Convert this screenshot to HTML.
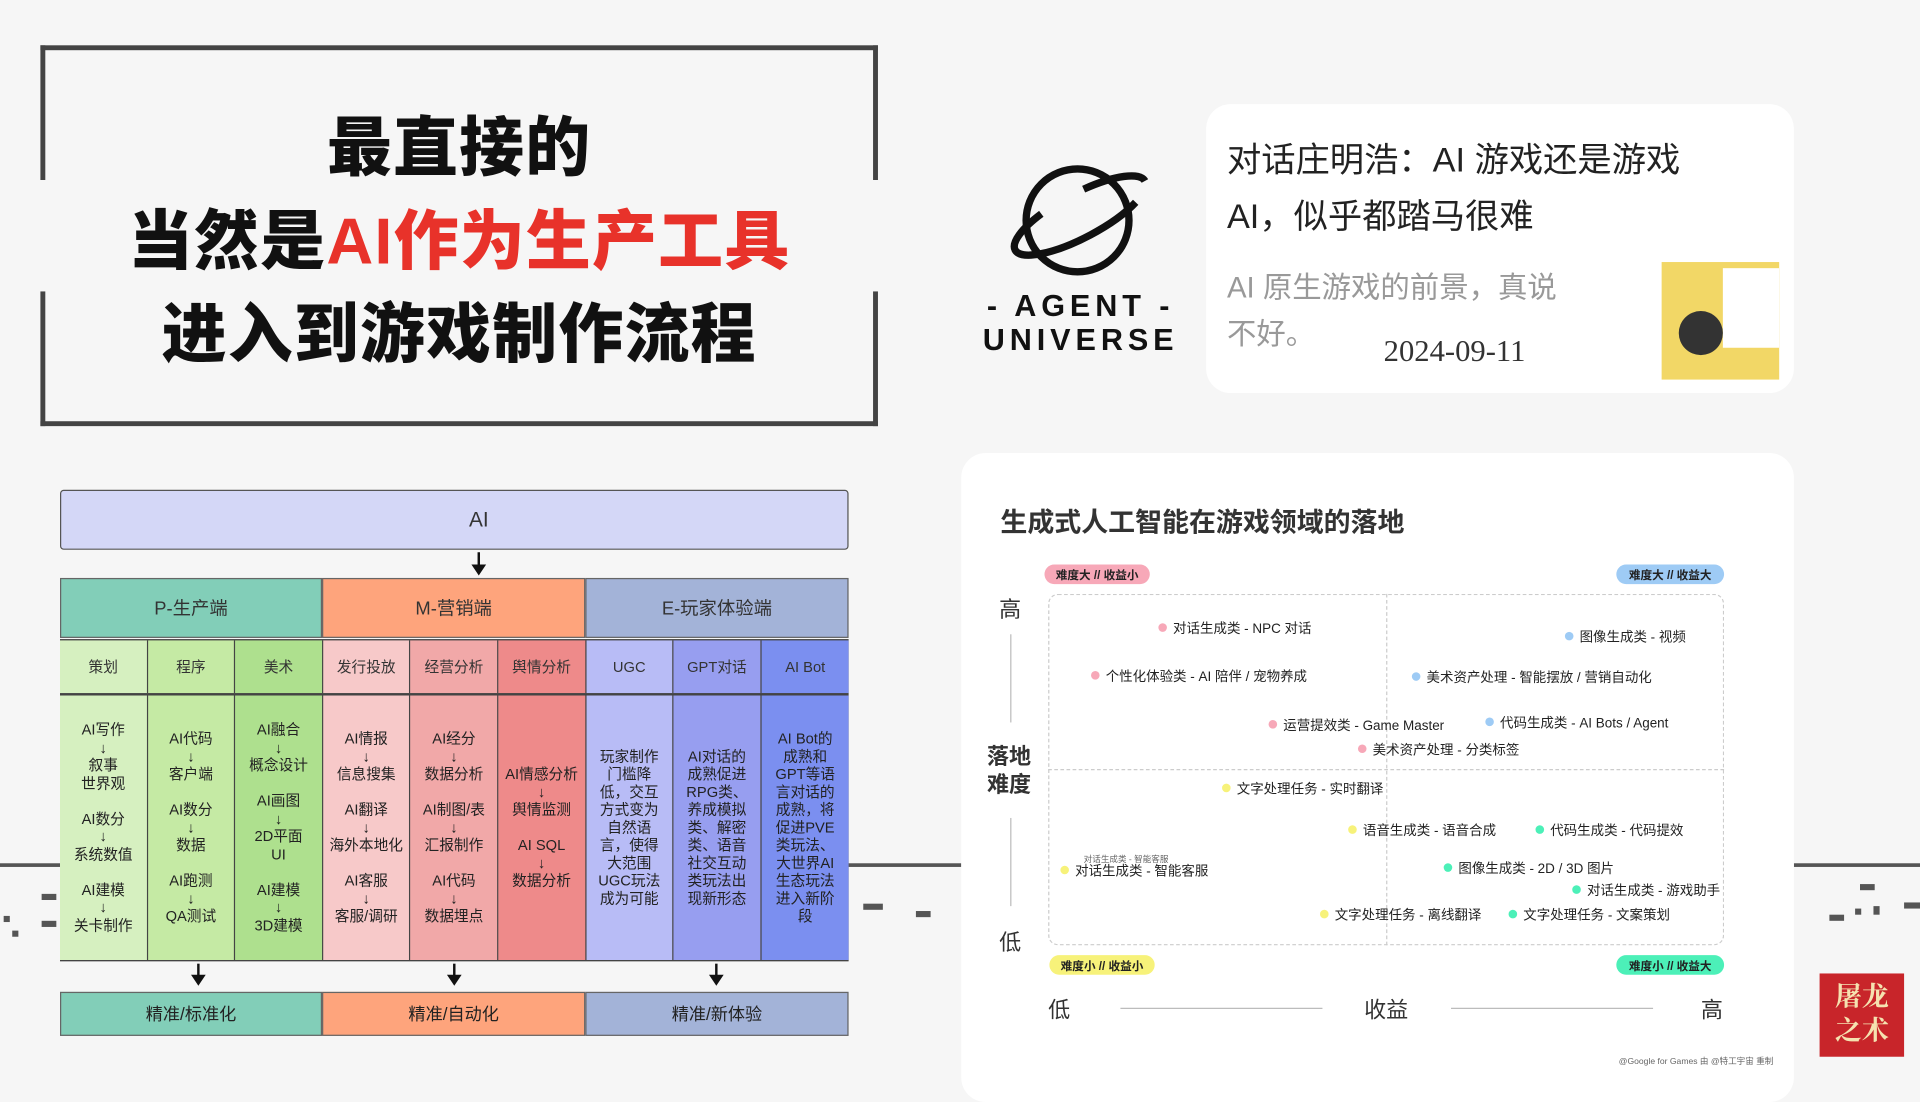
<!DOCTYPE html>
<html><head><meta charset="utf-8"><style>
*{margin:0;padding:0;box-sizing:border-box}
body{width:1920px;height:1080px;overflow:hidden;background:#f6f6f6;font-family:"Liberation Sans","Noto Sans CJK SC",sans-serif}
#w{position:absolute;left:0;top:0;width:1568px;height:882px;transform:scale(1.22449);transform-origin:0 0}
.a{position:absolute}
.c{position:absolute;display:flex;align-items:center;justify-content:center;text-align:center;color:#333}
.ln{position:absolute;background:#444}
.col{position:absolute;top:568px;height:216px;width:71.6px;display:flex;align-items:center;justify-content:center;text-align:center;font-size:12px;line-height:14.5px;color:#222;border-right:1px solid #444}
.sub{position:absolute;top:523px;height:43px;width:71.6px;display:flex;align-items:center;justify-content:center;font-size:12px;color:#333;border-right:1px solid #444}
.pt{position:absolute;font-size:11px;color:#222;white-space:nowrap;line-height:14px}
.pt i{display:inline-block;width:7px;height:7px;border-radius:50%;margin-right:5px;vertical-align:1px}
.tag{position:absolute;height:16px;border-radius:8px;font-size:9.5px;font-weight:bold;color:#222;display:flex;align-items:center;justify-content:center}
.arr{position:absolute;width:2px;background:#111}
.arr:after{content:"";position:absolute;left:-5px;bottom:-2px;border-left:6px solid transparent;border-right:6px solid transparent;border-top:9px solid #111}
.w{padding:0 9px}
</style></head><body><div id="w">
<div class="ln" style="left:33px;top:37px;width:684px;height:4px"></div>
<div class="ln" style="left:33px;top:344px;width:684px;height:4px"></div>
<div class="ln" style="left:33px;top:37px;width:4px;height:110px"></div>
<div class="ln" style="left:33px;top:238px;width:4px;height:110px"></div>
<div class="ln" style="left:713px;top:37px;width:4px;height:110px"></div>
<div class="ln" style="left:713px;top:238px;width:4px;height:110px"></div>
<div class="a" style="left:60px;top:84px;width:630px;text-align:center;font-size:53px;font-weight:900;line-height:76px;color:#111;letter-spacing:1px">最直接的<br>当然是<span style="color:#e8322a">AI作为生产工具</span><br>进入到游戏制作流程</div>
<svg class="a" style="left:820px;top:128px" width="125" height="100" viewBox="0 0 125 100">
<circle cx="60" cy="52" r="42" fill="none" stroke="#111" stroke-width="6"/>
<ellipse cx="62" cy="48" rx="60" ry="18" transform="rotate(-28 62 48)" fill="none" stroke="#111" stroke-width="6" stroke-dasharray="150 40" stroke-dashoffset="-20"/>
</svg>
<div class="a" style="left:795px;top:236px;width:175px;text-align:center;font-size:25px;font-weight:bold;letter-spacing:4px;line-height:28px;color:#111">- AGENT -<br>UNIVERSE</div>
<div class="a" style="left:985px;top:85px;width:480px;height:236px;background:#fff;border-radius:20px"></div>
<div class="a" style="left:1002px;top:108px;font-size:28px;line-height:46px;color:#222">对话庄明浩：AI 游戏还是游戏<br>AI，似乎都踏马很难</div>
<div class="a" style="left:1002px;top:217px;font-size:24px;line-height:38px;color:#999">AI 原生游戏的前景，真说<br>不好。</div>
<div class="a" style="left:1130px;top:274px;font-size:25px;color:#333;font-family:'Liberation Serif',serif">2024-09-11</div>
<div class="a" style="left:1357px;top:214px;width:96px;height:96px;background:#f2d766;overflow:hidden">
<div class="a" style="left:50px;top:5px;width:46px;height:65px;background:#fff"></div>
<div class="a" style="left:14px;top:40px;width:36px;height:36px;border-radius:50%;background:#333"></div></div>
<div class="ln" style="left:0;top:705px;width:50px;height:3px;background:#555"></div>
<div class="ln" style="left:693px;top:705px;width:92px;height:3px;background:#555"></div>
<div class="ln" style="left:1465px;top:705px;width:103px;height:3px;background:#555"></div>
<div class="ln" style="left:34px;top:730px;width:12px;height:5px;background:#555"></div>
<div class="ln" style="left:34px;top:752px;width:12px;height:5px;background:#555"></div>
<div class="ln" style="left:3px;top:748px;width:5px;height:5px;background:#555"></div>
<div class="ln" style="left:10px;top:760px;width:5px;height:5px;background:#555"></div>
<div class="ln" style="left:705px;top:738px;width:16px;height:5px;background:#555"></div>
<div class="ln" style="left:748px;top:744px;width:12px;height:5px;background:#555"></div>
<div class="ln" style="left:1519px;top:722px;width:12px;height:5px;background:#555"></div>
<div class="ln" style="left:1494px;top:747px;width:12px;height:5px;background:#555"></div>
<div class="ln" style="left:1515px;top:742px;width:5px;height:5px;background:#555"></div>
<div class="ln" style="left:1530px;top:740px;width:5px;height:7px;background:#555"></div>
<div class="ln" style="left:1555px;top:737px;width:13px;height:5px;background:#555"></div>
<div class="c" style="left:49px;top:400px;width:644px;height:49px;background:#d4d7f7;border:1px solid #555;border-radius:3px;font-size:17px;padding-left:40px">AI</div>
<div class="arr" style="left:390px;top:451px;height:17px"></div>
<div class="c" style="left:49px;top:472px;width:214px;height:49px;background:#82ceb8;border:1px solid #666;font-size:15px">P-生产端</div>
<div class="c" style="left:263px;top:472px;width:215px;height:49px;background:#fea47c;border:1px solid #666;font-size:15px">M-营销端</div>
<div class="c" style="left:478px;top:472px;width:215px;height:49px;background:#a3b3d8;border:1px solid #666;font-size:15px">E-玩家体验端</div>
<div class="a" style="left:49px;top:522px;width:644px;height:263px;border:1px solid #444;background:#444"></div>
<div class="sub" style="left:49px;background:#d6f0c0">策划</div>
<div class="sub" style="left:120.6px;background:#c5eaa4">程序</div>
<div class="sub" style="left:192.2px;background:#aee08e">美术</div>
<div class="sub" style="left:263.8px;background:#f7c9c9">发行投放</div>
<div class="sub" style="left:335.4px;background:#f1a8a8">经营分析</div>
<div class="sub" style="left:407px;background:#ee8a8a">舆情分析</div>
<div class="sub" style="left:478.6px;background:#b8bcf6">UGC</div>
<div class="sub" style="left:550.2px;background:#979ef0">GPT对话</div>
<div class="sub" style="left:621.8px;background:#7b8ff0;border-right:none">AI Bot</div>
<div class="col" style="left:49px;background:#d6f0c0">AI写作<br>↓<br>叙事<br>世界观<br><br>AI数分<br>↓<br>系统数值<br><br>AI建模<br>↓<br>关卡制作</div>
<div class="col" style="left:120.6px;background:#c5eaa4">AI代码<br>↓<br>客户端<br><br>AI数分<br>↓<br>数据<br><br>AI跑测<br>↓<br>QA测试</div>
<div class="col" style="left:192.2px;background:#aee08e">AI融合<br>↓<br>概念设计<br><br>AI画图<br>↓<br>2D平面<br>UI<br><br>AI建模<br>↓<br>3D建模</div>
<div class="col" style="left:263.8px;background:#f7c9c9">AI情报<br>↓<br>信息搜集<br><br>AI翻译<br>↓<br>海外本地化<br><br>AI客服<br>↓<br>客服/调研</div>
<div class="col" style="left:335.4px;background:#f1a8a8">AI经分<br>↓<br>数据分析<br><br>AI制图/表<br>↓<br>汇报制作<br><br>AI代码<br>↓<br>数据埋点</div>
<div class="col" style="left:407px;background:#ee8a8a">AI情感分析<br>↓<br>舆情监测<br><br>AI SQL<br>↓<br>数据分析</div>
<div class="col w" style="left:478.6px;background:#b8bcf6">玩家制作门槛降低，交互方式变为自然语言，使得大范围UGC玩法成为可能</div>
<div class="col w" style="left:550.2px;background:#979ef0">AI对话的成熟促进RPG类、养成模拟类、解密类、语音社交互动类玩法出现新形态</div>
<div class="col w" style="left:621.8px;background:#7b8ff0;border-right:none">AI Bot的成熟和GPT等语言对话的成熟，将促进PVE类玩法、大世界AI生态玩法进入新阶段</div>
<div class="arr" style="left:161px;top:787px;height:16px"></div>
<div class="arr" style="left:370px;top:787px;height:16px"></div>
<div class="arr" style="left:584px;top:787px;height:16px"></div>
<div class="c" style="left:49px;top:810px;width:214px;height:36px;background:#82ceb8;border:1px solid #666;font-size:14px;color:#222">精准/标准化</div>
<div class="c" style="left:263px;top:810px;width:215px;height:36px;background:#fea47c;border:1px solid #666;font-size:14px;color:#222">精准/自动化</div>
<div class="c" style="left:478px;top:810px;width:215px;height:36px;background:#a3b3d8;border:1px solid #666;font-size:14px;color:#222">精准/新体验</div>
<div class="a" style="left:785px;top:370px;width:680px;height:530px;background:#fff;border-radius:20px"></div>
<div class="a" style="left:817px;top:409px;font-size:22px;font-weight:bold;color:#333">生成式人工智能在游戏领域的落地</div>
<div class="a" style="left:856px;top:485px;width:552px;height:287px;border:1px dashed #ccc;border-radius:8px"></div>
<div class="a" style="left:1132px;top:485px;height:287px;border-left:1px dashed #ccc"></div>
<div class="a" style="left:856px;top:628px;width:552px;border-top:1px dashed #ccc"></div>
<div class="tag" style="left:853px;top:461px;width:86px;background:#f7a8b8">难度大 // 收益小</div>
<div class="tag" style="left:1320px;top:461px;width:88px;background:#9ecbf5">难度大 // 收益大</div>
<div class="tag" style="left:857px;top:780px;width:86px;background:#f7f27a">难度小 // 收益小</div>
<div class="tag" style="left:1320px;top:780px;width:88px;background:#4cf0b8">难度小 // 收益大</div>
<div class="a" style="left:816px;top:484px;font-size:18px;color:#333">高</div>
<div class="a" style="left:806px;top:607px;font-size:18px;line-height:23px;color:#333;font-weight:bold">落地<br>难度</div>
<div class="a" style="left:816px;top:756px;font-size:18px;color:#333">低</div>
<div class="a" style="left:825px;top:518px;height:72px;border-left:1px solid #bbb"></div>
<div class="a" style="left:825px;top:668px;height:72px;border-left:1px solid #bbb"></div>
<div class="a" style="left:856px;top:811px;font-size:18px;color:#333">低</div>
<div class="a" style="left:1114px;top:811px;font-size:18px;color:#333">收益</div>
<div class="a" style="left:1389px;top:811px;font-size:18px;color:#333">高</div>
<div class="a" style="left:915px;top:823px;width:165px;border-top:1px solid #bbb"></div>
<div class="a" style="left:1185px;top:823px;width:165px;border-top:1px solid #bbb"></div>
<div class="pt" style="left:946px;top:507px"><i style="background:#f7a8b8"></i>对话生成类 - NPC 对话</div>
<div class="pt" style="left:891px;top:546px"><i style="background:#f7a8b8"></i>个性化体验类 - AI 陪伴 / 宠物养成</div>
<div class="pt" style="left:1036px;top:586px"><i style="background:#f7a8b8"></i>运营提效类 - Game Master</div>
<div class="pt" style="left:1109px;top:606px"><i style="background:#f7a8b8"></i>美术资产处理 - 分类标签</div>
<div class="pt" style="left:1278px;top:514px"><i style="background:#9ecbf5"></i>图像生成类 - 视频</div>
<div class="pt" style="left:1153px;top:547px"><i style="background:#9ecbf5"></i>美术资产处理 - 智能摆放 / 营销自动化</div>
<div class="pt" style="left:1213px;top:584px"><i style="background:#9ecbf5"></i>代码生成类 - AI Bots / Agent</div>
<div class="pt" style="left:998px;top:638px"><i style="background:#f7f27a"></i>文字处理任务 - 实时翻译</div>
<div class="pt" style="left:1101px;top:672px"><i style="background:#f7f27a"></i>语音生成类 - 语音合成</div>
<div class="pt" style="left:866px;top:705px"><i style="background:#f7f27a"></i>对话生成类 - 智能客服</div>
<div class="a" style="left:885px;top:697px;font-size:7px;color:#666">对话生成类 - 智能客服</div>
<div class="pt" style="left:1078px;top:741px"><i style="background:#f7f27a"></i>文字处理任务 - 离线翻译</div>
<div class="pt" style="left:1254px;top:672px"><i style="background:#4cf0b8"></i>代码生成类 - 代码提效</div>
<div class="pt" style="left:1179px;top:703px"><i style="background:#4cf0b8"></i>图像生成类 - 2D / 3D 图片</div>
<div class="pt" style="left:1284px;top:721px"><i style="background:#4cf0b8"></i>对话生成类 - 游戏助手</div>
<div class="pt" style="left:1232px;top:741px"><i style="background:#4cf0b8"></i>文字处理任务 - 文案策划</div>
<div class="a" style="left:1322px;top:862px;font-size:7px;color:#666;white-space:nowrap">@Google for Games 由 @特工宇宙 重制</div>
<div class="a" style="left:1486px;top:795px;width:69px;height:68px;background:#c8252a;color:#f5e2b0;font-size:22px;line-height:28px;font-weight:bold;text-align:center;padding-top:4px;font-family:'Noto Serif CJK SC',serif">屠龙<br>之术</div>
</div></body></html>
